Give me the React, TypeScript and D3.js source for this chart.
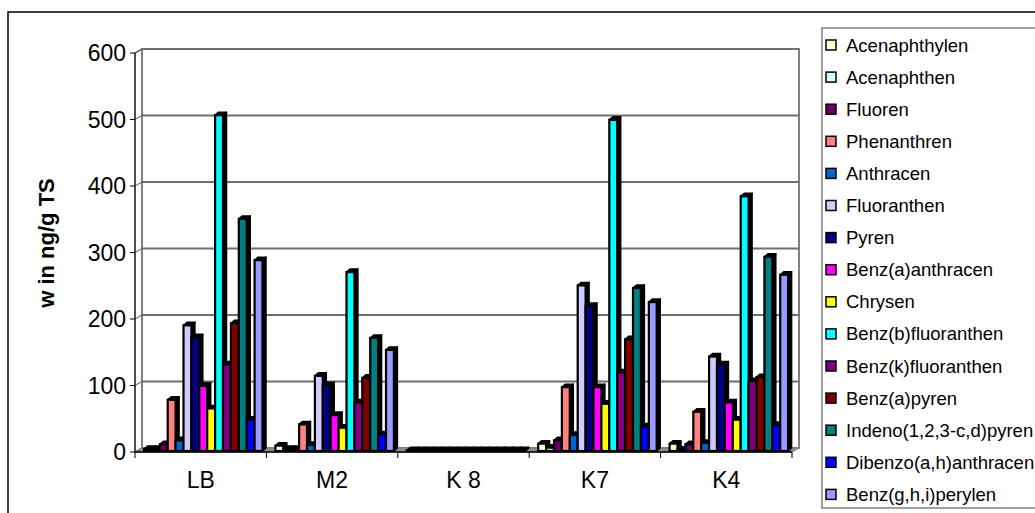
import React from "react";
import * as d3 from "d3";

// Sampling sites (x categories)
const sites = ["LB", "M2", "K 8", "K7", "K4"];

// PAH compounds (series) and their fill colours
const compounds = [
  "Acenaphthylen",
  "Acenaphthen",
  "Fluoren",
  "Phenanthren",
  "Anthracen",
  "Fluoranthen",
  "Pyren",
  "Benz(a)anthracen",
  "Chrysen",
  "Benz(b)fluoranthen",
  "Benz(k)fluoranthen",
  "Benz(a)pyren",
  "Indeno(1,2,3-c,d)pyren",
  "Dibenzo(a,h)anthracen",
  "Benz(g,h,i)perylen",
];

const colors = [
  "#FFFFCC",
  "#CCFFFF",
  "#660066",
  "#FF8080",
  "#0066CC",
  "#CCCCFF",
  "#000080",
  "#FF00FF",
  "#FFFF00",
  "#00FFFF",
  "#800080",
  "#800000",
  "#008080",
  "#0000FF",
  "#9999FF",
];

// Concentrations in ng/g TS, one entry per compound (same order as above)
const valuesLB = [3, 3, 10, 77, 16, 189, 171, 98, 64, 505, 130, 192, 349, 47, 287];
const valuesM2 = [8, 3, 3, 40, 9, 113, 99, 54, 35, 269, 73, 110, 170, 25, 152];
const valuesK8 = [1, 1, 1, 1, 1, 1, 1, 1, 1, 1, 1, 1, 1, 1, 1];
const valuesK7 = [11, 5, 16, 96, 24, 249, 218, 96, 71, 498, 118, 168, 245, 37, 224];
const valuesK4 = [11, 2, 10, 59, 12, 142, 130, 73, 47, 383, 105, 111, 292, 39, 265];

const siteValues = [valuesLB, valuesM2, valuesK8, valuesK7, valuesK4];

const yTicks = [0, 100, 200, 300, 400, 500, 600];

const W = 1035;
const H = 513;
const FONT = "'Liberation Sans', Arial, sans-serif";

export default function App() {
  // front plane of the 3-D box
  const left = 135;
  const right = 792;
  const base = 452;
  const top = 53;
  // depth offset of the back wall
  const wdx = 7;
  const wdy = -4;
  // depth of the individual columns
  const bdx = 3.5;
  const bdy = -3;

  const y = d3.scaleLinear().domain([0, 600]).range([base, top]);
  const xSite = d3.scaleBand<string>().domain(sites).range([left, right]).padding(0);
  const xComp = d3
    .scaleBand<string>()
    .domain(compounds)
    .range([9, 9 + 118.5])
    .padding(0);

  const bars: React.ReactNode[] = [];
  sites.forEach((s, si) => {
    compounds.forEach((c, ci) => {
      const v = siteValues[si][ci];
      const x = (xSite(s) as number) + (xComp(c) as number);
      const w = xComp.bandwidth();
      const yB = y(0) - 1;
      const yT = y(v) - 1;
      const topFace = `${x},${yT} ${x + bdx},${yT + bdy} ${x + w + bdx},${yT + bdy} ${x + w},${yT}`;
      const sideFace = `${x + w},${yT} ${x + w + bdx},${yT + bdy} ${x + w + bdx},${yB + bdy} ${x + w},${yB}`;
      bars.push(
        <g key={`${s}-${c}`}>
          <polygon points={topFace} fill="#000" stroke="#000" strokeWidth={1.5} strokeLinejoin="round" />
          <polygon points={sideFace} fill="#000" stroke="#000" strokeWidth={1.5} strokeLinejoin="round" />
          <rect
            x={x}
            y={yT}
            width={w}
            height={Math.max(0, yB - yT)}
            fill={colors[ci]}
            stroke="#000"
            strokeWidth={2.2}
          />
        </g>
      );
    });
  });

  const legendX = 822;
  const legendY = 28;

  return (
    <svg
      width={W}
      height={H}
      style={{ position: "absolute", left: 0, top: 0, background: "#fff" }}
      fontFamily={FONT}
    >
      <rect x={0} y={0} width={W} height={H} fill="#fff" />
      {/* chart frame */}
      <rect x={8} y={12} width={W + 20} height={H + 20} fill="none" stroke="#000" strokeWidth={1.5} />

      {/* walls */}
      <polygon
        points={`${left},${base} ${left},${top} ${left + wdx},${top + wdy} ${left + wdx},${base + wdy}`}
        fill="#fff"
        stroke="#808080"
        strokeWidth={1.5}
      />
      <rect
        x={left + wdx}
        y={top + wdy}
        width={right - left}
        height={base - top}
        fill="#fff"
        stroke="#808080"
        strokeWidth={2}
      />
      {/* floor */}
      <polygon
        points={`${left},${base} ${right},${base} ${right + wdx},${base + wdy} ${left + wdx},${base + wdy}`}
        fill="#8c8c8c"
        stroke="#808080"
        strokeWidth={1}
      />

      {/* gridlines on side and back wall */}
      {yTicks.slice(1).map((t) => (
        <g key={`g${t}`}>
          <line
            x1={left}
            x2={left + wdx}
            y1={y(t)}
            y2={y(t) + wdy}
            stroke="#555"
            strokeWidth={1}
          />
          <line
            x1={left + wdx}
            x2={right + wdx}
            y1={y(t) + wdy}
            y2={y(t) + wdy}
            stroke="#6e6e6e"
            strokeWidth={2}
          />
        </g>
      ))}

      {bars}

      {/* value axis */}
      <line x1={left} x2={left} y1={top} y2={base} stroke="#333" strokeWidth={1.5} />
      {yTicks.map((t) => (
        <g key={`t${t}`}>
          <line x1={left - 5} x2={left} y1={y(t)} y2={y(t)} stroke="#000" strokeWidth={1} />
          <text
            x={left - 9}
            y={y(t)}
            textAnchor="end"
            dominantBaseline="central"
            fontSize={23}
            fill="#000"
          >
            {t}
          </text>
        </g>
      ))}

      {/* category axis */}
      <line x1={left} x2={right} y1={base} y2={base} stroke="#000" strokeWidth={1.5} />
      {d3.range(sites.length + 1).map((i) => {
        const xx = left + i * xSite.step();
        return <line key={`ct${i}`} x1={xx} x2={xx} y1={base} y2={base + 6} stroke="#000" strokeWidth={1} />;
      })}
      {sites.map((s) => (
        <text
          key={`cl${s}`}
          x={(xSite(s) as number) + xSite.bandwidth() / 2}
          y={488}
          textAnchor="middle"
          fontSize={23}
          fill="#000"
        >
          {s}
        </text>
      ))}

      {/* axis title */}
      <text
        transform={`translate(46,243) rotate(-90)`}
        textAnchor="middle"
        dominantBaseline="central"
        fontSize={22}
        fontWeight="bold"
        fill="#000"
      >
        w in ng/g TS
      </text>

      {/* legend */}
      <rect
        x={legendX}
        y={legendY}
        width={230}
        height={480}
        fill="#fff"
        stroke="#808080"
        strokeWidth={1.5}
      />
      {compounds.map((c, i) => {
        const cy = 45 + i * 32.1;
        return (
          <g key={`lg${c}`}>
            <rect x={826} y={cy - 5} width={10} height={10} fill={colors[i]} stroke="#000" strokeWidth={1.5} />
            <text x={846} y={cy} dominantBaseline="central" fontSize={18.5} fill="#000">
              {c}
            </text>
          </g>
        );
      })}
    </svg>
  );
}
